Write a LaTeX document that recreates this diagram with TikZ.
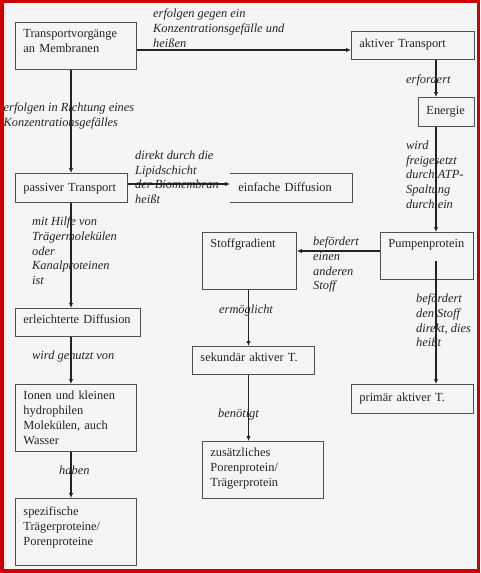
\documentclass[tikz,border=0pt]{standalone}
\usepackage{fontspec}
\setmainfont{Liberation Serif}
\usetikzlibrary{arrows.meta}
\definecolor{frame}{RGB}{204,0,0}
\definecolor{paper}{RGB}{245,245,245}
\definecolor{edge}{RGB}{80,80,80}
\definecolor{ink}{RGB}{35,35,35}
\tikzset{
  box/.style={draw=edge, line width=0.9pt, anchor=north west, align=left,
    inner xsep=8pt, inner ysep=0pt, text=ink,
    font=\fontsize{12.4}{15}\selectfont},
  dims/.style n args={3}{text width=#1, text height=#2, text depth=#3},
  lbl/.style={anchor=north west, align=left, inner sep=0pt, text=ink,
    font=\fontsize{12.4}{14.8}\selectfont\itshape},
  arr/.style={draw=ink, line width=1.1pt, -{Latex[length=5pt,width=4.5pt]}}
}
\begin{document}
\begin{tikzpicture}[x=1pt,y=-1pt]
  \fill[frame] (0,0) rectangle (480,573);
  \fill[paper] (3.5,2.5) rectangle (477,569);
  \useasboundingbox (0,0) rectangle (480,573);
  % boxes
  \node[box, dims={105pt}{15.5pt}{31.5pt}] (tv) at (15,22) {Transportvorgänge\\an Membranen};
  \node[box, dims={107pt}{16pt}{12pt}] (akt) at (351,31) {aktiver Transport};
  \node[box, dims={40pt}{17pt}{12pt}] (en) at (418,97) {Energie};
  \node[box, dims={96pt}{18pt}{11pt}] (pt) at (15,173) {passiver Transport};
  \node[box, draw=none, dims={106pt}{18pt}{11pt}] (ed) at (230,173) {einfache Diffusion};
  \draw[edge, line width=0.9pt] (ed.north west) -- (ed.north east) -- (ed.south east) -- (ed.south west);
  \node[box, dims={78pt}{15pt}{42pt}] (sg) at (202,232) {Stoffgradient};
  \node[box, dims={77pt}{15pt}{32pt}] (pp) at (380,232) {Pumpenprotein};
  \node[box, dims={109pt}{15pt}{13pt}] (el) at (15,308) {erleichterte Diffusion};
  \node[box, dims={106pt}{15pt}{13pt}] (sk) at (192,346) {sekundär aktiver T.};
  \node[box, dims={106pt}{17pt}{12pt}] (pr) at (351,384) {primär aktiver T.};
  \node[box, dims={105pt}{15pt}{52pt}] (io) at (15,384) {Ionen und kleinen\\hydrophilen\\Molekülen, auch\\Wasser};
  \node[box, dims={105pt}{15pt}{42pt}] (zu) at (202,441) {zusätzliches\\Porenprotein/\\Trägerprotein};
  \node[box, dims={105pt}{17pt}{50pt}] (sp) at (15,498) {spezifische\\Trägerproteine/\\Porenproteine};
  % labels
  \node[lbl] (lg) at (153,8.5) {erfolgen gegen ein\\Konzentrationsgefälle und\\heißen};
  \node[lbl] (lr) at (3.5,102.5) {erfolgen in Richtung eines\\Konzentrationsgefälles};
  \node[lbl] (lerf) at (406,74.5) {erfordert};
  \node[lbl] (lfrei) at (406,140.5) {wird\\freigesetzt\\durch ATP-\\Spaltung\\durch ein};
  \node[lbl] (ldir) at (135,150.5) {direkt durch die\\Lipidschicht\\der Biomembran\\heißt};
  \node[lbl] (lhilfe) at (32,216.5) {mit Hilfe von\\Trägermolekülen\\oder\\Kanalproteinen\\ist};
  \node[lbl] (lgen) at (32,350.5) {wird genutzt von};
  \node[lbl] (lhab) at (59,465.5) {haben};
  \node[lbl] (lerm) at (219,304.5) {ermöglicht};
  \node[lbl] (lbef1) at (313,236.5) {befördert\\einen\\anderen\\Stoff};
  \node[lbl] (lbef2) at (416,293.5) {befördert\\den Stoff\\direkt, dies\\heißt};
  \node[lbl] (lben) at (218,408.5) {benötigt};
  % lanes
  \coordinate (laneL) at (71,0);
  \coordinate (laneM) at (248.5,0);
  \coordinate (laneR) at (436,0);
  \coordinate (rowA) at (0,50);
  \coordinate (rowB) at (0,184);
  \coordinate (rowC) at (0,251);
  \coordinate (ppfoot) at ([yshift=19pt]pp.south);
  \begin{scope}[arr]
    \draw (tv.east |- rowA) -- (akt.west |- rowA);
    \draw (tv.south -| laneL) -- (pt.north -| laneL);
    \draw (akt.south -| laneR) -- (en.north -| laneR);
    \draw (en.south -| laneR) -- (pp.north -| laneR);
    \draw (pt.east |- rowB) -- (ed.west |- rowB);
    \draw (pt.south -| laneL) -- (el.north -| laneL);
    \draw (el.south -| laneL) -- (io.north -| laneL);
    \draw (io.south -| laneL) -- (sp.north -| laneL);
    \draw (pp.west |- rowC) -- (sg.east |- rowC);
    \draw (ppfoot -| laneR) -- (pr.north -| laneR);
    \draw (sg.south -| laneM) -- (sk.north -| laneM);
    \draw (sk.south -| laneM) -- (zu.north -| laneM);
  \end{scope}
\end{tikzpicture}
\end{document}
